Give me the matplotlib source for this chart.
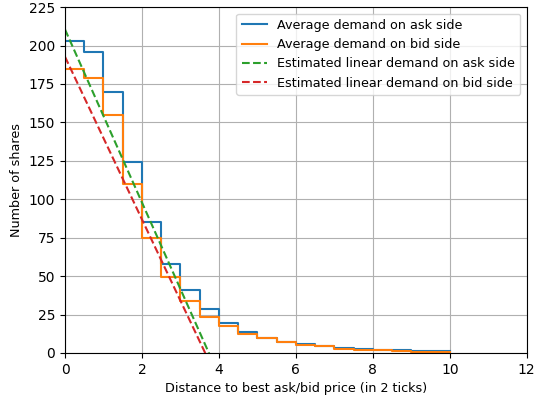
import matplotlib
matplotlib.use('Agg')
import matplotlib.pyplot as plt
import numpy as np

plt.rcParams['font.size'] = 9.2
plt.rcParams['xtick.labelsize'] = 10
plt.rcParams['ytick.labelsize'] = 10

# price levels (in units of 2 ticks)
levels = np.arange(0, 10.5, 0.5)
ask_demand = [203, 195.5, 170, 124.5, 85.5, 57.7, 41, 28.4, 19.5, 13.7,
              9.9, 7.4, 6.0, 4.7, 3.2, 2.6, 2.0, 1.7, 1.0, 1.0]
bid_demand = [185, 179, 155, 110, 74.6, 49.2, 34, 23.2, 17.6, 12.5,
              9.9, 7.2, 5.4, 4.3, 2.4, 2.0, 1.7, 1.3, 0.9, 0.8]

# linear fits: intercept, slope
ask_fit = (210.5, -56.3)
bid_fit = (192.7, -52.9)

fig = plt.figure(figsize=(5.35, 3.97), dpi=100)
ax = fig.add_axes([0.1215, 0.111, 0.863, 0.871])

ax.step(levels, ask_demand + [ask_demand[-1]], where='post', label='Average demand on ask side')
ax.step(levels, bid_demand + [bid_demand[-1]], where='post', label='Average demand on bid side')

xs = np.array([0, 12])
ax.plot(xs, ask_fit[0] + ask_fit[1] * xs, '--', label='Estimated linear demand on ask side')
ax.plot(xs, bid_fit[0] + bid_fit[1] * xs, '--', label='Estimated linear demand on bid side')

ax.set_xlim(0, 12)
ax.set_ylim(0, 225)
ax.set_yticks(np.arange(0, 226, 25))
ax.grid(True)
ax.set_xlabel('Distance to best ask/bid price (in 2 ticks)')
ax.set_ylabel('Number of shares')
ax.legend(loc='upper right')

fig.savefig('out.png', dpi=100)
